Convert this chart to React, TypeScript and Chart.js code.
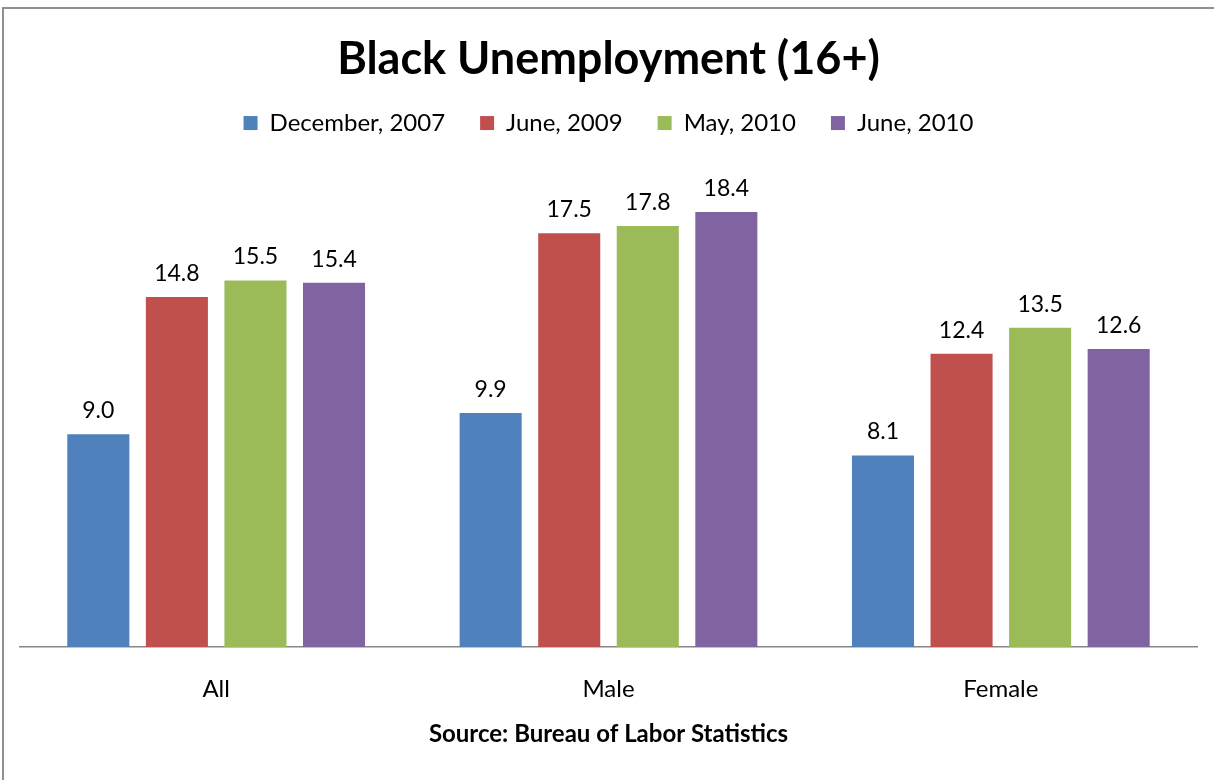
import React, { useEffect, useRef } from "react";
import { Chart, registerables } from "chart.js";

Chart.register(...registerables);

const categories = ["All", "Male", "Female"];
const seriesNames = ["December, 2007", "June, 2009", "May, 2010", "June, 2010"];
const dec2007 = [9.0, 9.9, 8.1];
const jun2009 = [14.8, 17.5, 12.4];
const may2010 = [15.5, 17.8, 13.5];
const jun2010 = [15.4, 18.4, 12.6];
const seriesValues = [dec2007, jun2009, may2010, jun2010];
const seriesColors = ["#4F81BD", "#C0504D", "#9BBB59", "#8064A2"];
const chartTitle = "Black Unemployment (16+)";
const sourceText = "Source: Bureau of Labor Statistics";

const FONT = "Lato";

const valueLabels = {
  id: "valueLabels",
  afterDatasetsDraw(chart: any) {
    const ctx = chart.ctx;
    ctx.save();
    ctx.font = `23px ${FONT}`;
    ctx.fillStyle = "#000";
    ctx.textAlign = "center";
    ctx.textBaseline = "alphabetic";
    chart.data.datasets.forEach((ds: any, i: number) => {
      const meta = chart.getDatasetMeta(i);
      meta.data.forEach((el: any, j: number) => {
        ctx.fillText(Number(ds.data[j]).toFixed(1), el.x, el.y - 16);
      });
    });
    ctx.restore();
  },
};

const frame = {
  id: "frame",
  beforeDraw(chart: any) {
    const ctx = chart.ctx;
    ctx.save();
    ctx.fillStyle = "#fff";
    ctx.fillRect(0, 0, chart.width, chart.height);
    ctx.strokeStyle = "#8F8F8F";
    ctx.lineWidth = 2;
    ctx.strokeRect(3, 8, chart.width + 50, chart.height + 50);
    ctx.restore();
  },
};

export default function App() {
  const ref = useRef<HTMLCanvasElement | null>(null);
  useEffect(() => {
    if (!ref.current) return;
    const chart = new Chart(ref.current, {
      type: "bar",
      data: {
        labels: categories,
        datasets: seriesNames.map((name, i) => ({
          label: name,
          data: seriesValues[i],
          backgroundColor: seriesColors[i],
          borderWidth: 0,
          categoryPercentage: 0.801,
          barPercentage: 0.79,
        })),
      },
      options: {
        animation: false,
        responsive: false,
        devicePixelRatio: 1,
        layout: { padding: { left: 20, right: 17, top: 0, bottom: 0 } },
        plugins: {
          title: {
            display: true,
            text: chartTitle,
            color: "#000",
            font: { family: FONT, size: 45, weight: "bold", lineHeight: 0.65 },
            padding: { top: 44.4, bottom: 2.4 },
          },
          subtitle: {
            display: true,
            text: "",
            weight: 500,
            font: { size: 29, lineHeight: 1 },
            padding: 0,
          },
          legend: {
            position: "top",
            labels: {
              boxWidth: 14,
              boxHeight: 14,
              padding: 35,
              color: "#000",
              font: { family: FONT, size: 24 },
            },
          },
          tooltip: { enabled: false },
        },
        scales: {
          x: {
            grid: { display: false, drawTicks: false },
            border: { display: true, color: "#868686", width: 1.5 },
            ticks: { color: "#000", font: { family: FONT, size: 24 }, padding: 28 },
            title: {
              display: true,
              text: sourceText,
              color: "#000",
              font: { family: FONT, size: 24, weight: "bold" },
              padding: { top: -12.2, bottom: 31.6 },
            },
          },
          y: { display: false, min: 0, max: 20 },
        },
      },
      plugins: [frame, valueLabels],
    } as any);
    return () => chart.destroy();
  }, []);
  return (
    <div style={{ position: "absolute", left: 0, top: 0, width: 1214, height: 780 }}>
      <canvas ref={ref} width={1214} height={780} style={{ display: "block" }} />
    </div>
  );
}
